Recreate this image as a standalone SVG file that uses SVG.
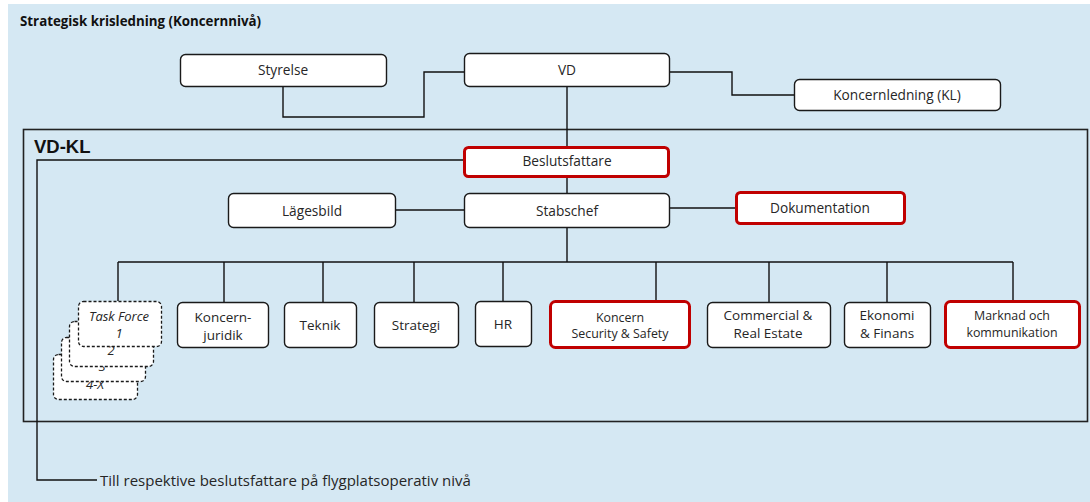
<svg xmlns="http://www.w3.org/2000/svg" width="1090" height="502" viewBox="0 0 1090 502">
<style>
text{font-family:"Open Sans","Noto Sans","DejaVu Sans",sans-serif;fill:#262626;text-anchor:middle}
.n{fill:#fff;stroke:#1a1a1a;stroke-width:1.4}
.r{fill:#fff;stroke:#c00000;stroke-width:3}
.d{fill:#fff;stroke:#1a1a1a;stroke-width:1.3;stroke-dasharray:3 2}
.c{fill:none;stroke:#111;stroke-width:1.4}
.t{font-size:13.7px}
.s{font-size:13.5px}
.m{font-size:12.4px}
.i{font-size:13px;font-style:italic}
</style>
<rect x="8" y="4" width="1082" height="498" fill="#d5e8f3"/>
<text x="20" y="26" style="font-size:13.3px;font-weight:bold;text-anchor:start;fill:#111">Strategisk krisledning (Koncernnivå)</text>
<rect x="23.5" y="129.5" width="1064" height="292" fill="none" stroke="#222" stroke-width="1.6"/>
<text x="34" y="153" style="font-family:'Liberation Sans',Arial,sans-serif;font-size:18.5px;font-weight:bold;text-anchor:start;fill:#111">VD-KL</text>
<g id="connectors" class="c">
<path class="c" d="M283 86V117H424V72H464"/>
<path class="c" d="M669 72H732V95H794"/>
<path class="c" d="M567 86V147"/>
<path class="c" d="M464 160H37V480H97"/>
<path class="c" d="M567 176V193"/>
<path class="c" d="M395 210H464"/>
<path class="c" d="M669 208H736"/>
<path class="c" d="M567 227V262"/>
<path class="c" d="M118 262H1013"/>
<path class="c" d="M118 262V301M224 262V302M323 262V302M414 262V302M503 262V301M656 262V301M769 262V302M887 262V302M1013 262V301"/>
</g>
<g id="styrelse"><rect class="n" x="180.5" y="54.5" width="206" height="32" rx="5"/><text class="t" x="283" y="75">Styrelse</text></g>
<g id="vd"><rect class="n" x="464.5" y="53.5" width="205" height="33" rx="5"/><text class="t" x="567" y="75">VD</text></g>
<g id="kl"><rect class="n" x="794.5" y="79.5" width="206" height="31" rx="5"/><text class="t" x="897" y="100">Koncernledning (KL)</text></g>
<g id="beslutsfattare"><rect class="r" x="464.5" y="147.5" width="204" height="29" rx="4"/><text class="t" x="567" y="166">Beslutsfattare</text></g>
<g id="lagesbild"><rect class="n" x="228.5" y="193.5" width="167" height="34" rx="5"/><text class="t" x="312" y="216">Lägesbild</text></g>
<g id="stabschef"><rect class="n" x="464.5" y="193.5" width="205" height="34" rx="5"/><text class="t" x="567" y="216">Stabschef</text></g>
<g id="dokumentation"><rect class="r" x="736.5" y="192.5" width="168" height="31" rx="4"/><text class="t" x="820" y="213">Dokumentation</text></g>
<g id="taskforce">
<rect class="d" x="53.5" y="354.5" width="84" height="45" rx="5"/>
<text class="i" x="95" y="389">4-X</text>
<rect class="d" x="61.5" y="337.5" width="84" height="44" rx="5"/>
<text class="i" x="102" y="371">3</text>
<rect class="d" x="69.5" y="321.5" width="84" height="45" rx="5"/>
<text class="i" x="111" y="355">2</text>
<rect class="d" x="78.5" y="301.5" width="83" height="45" rx="5"/>
<text class="i" x="119" y="321">Task Force</text>
<text class="i" x="119" y="338">1</text>
</g>
<g id="koncernjuridik"><rect class="n" x="177.5" y="302.5" width="91" height="45" rx="5"/><text class="s" x="223" y="322">Koncern-</text><text class="s" x="223" y="340">juridik</text></g>
<g id="teknik"><rect class="n" x="284.5" y="302.5" width="72" height="45" rx="5"/><text class="s" x="320" y="330">Teknik</text></g>
<g id="strategi"><rect class="n" x="374.5" y="302.5" width="84" height="45" rx="5"/><text class="s" x="416" y="330">Strategi</text></g>
<g id="hr"><rect class="n" x="475.5" y="301.5" width="56" height="45" rx="5"/><text class="s" x="503" y="329">HR</text></g>
<g id="security"><rect class="r" x="550.5" y="301.5" width="139" height="46" rx="5"/><text class="m" x="620" y="322">Koncern</text><text class="m" x="620" y="338">Security &amp; Safety</text></g>
<g id="commercial"><rect class="n" x="707.5" y="302.5" width="123" height="45" rx="5"/><text class="s" x="768" y="320">Commercial &amp;</text><text class="s" x="768" y="338">Real Estate</text></g>
<g id="ekonomi"><rect class="n" x="844.5" y="302.5" width="86" height="45" rx="5"/><text class="s" x="887" y="320">Ekonomi</text><text class="s" x="887" y="338">&amp; Finans</text></g>
<g id="marknad"><rect class="r" x="945.5" y="301.5" width="134" height="46" rx="5"/><text class="m" x="1012" y="320">Marknad och</text><text class="m" x="1012" y="337">kommunikation</text></g>
<text x="100" y="486" style="font-size:15px;text-anchor:start">Till respektive beslutsfattare på flygplatsoperativ nivå</text>
</svg>
